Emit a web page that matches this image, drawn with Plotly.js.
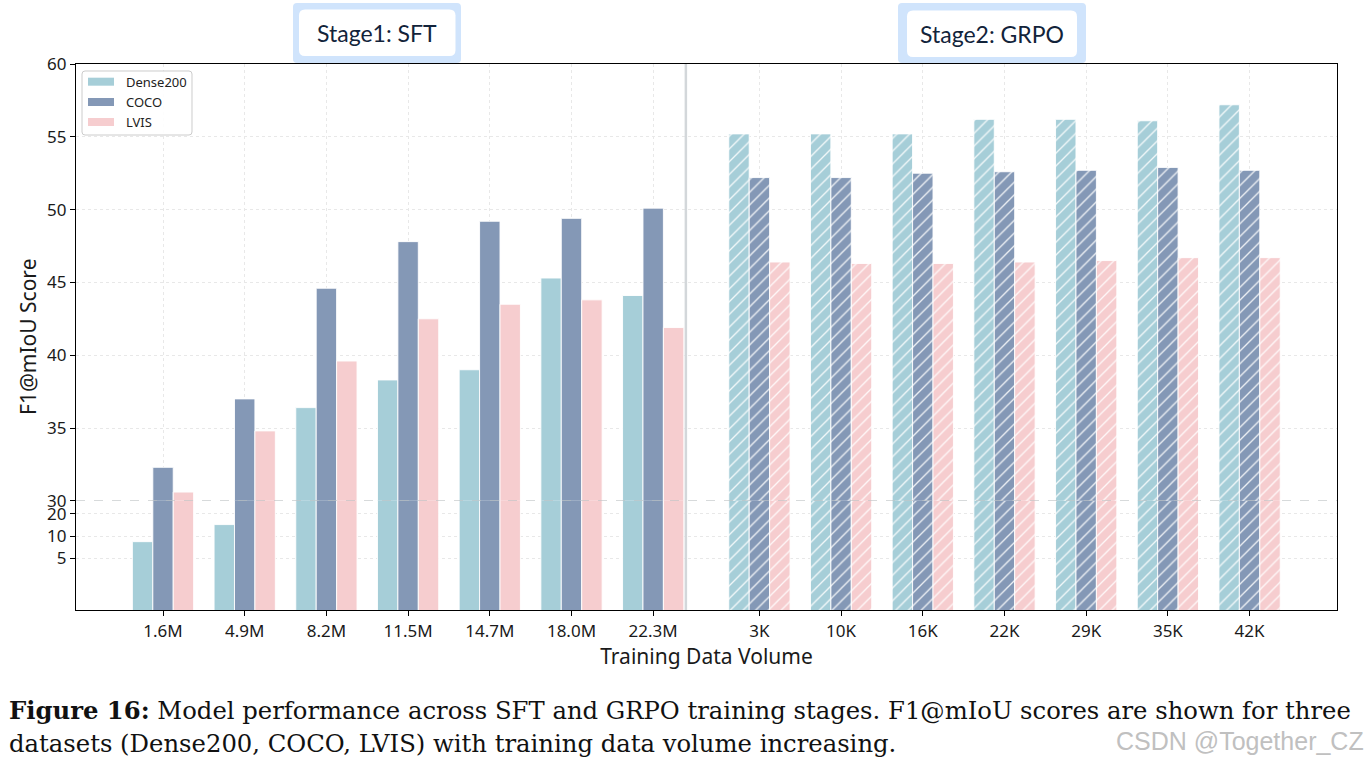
<!DOCTYPE html>
<html>
<head>
<meta charset="utf-8">
<script src="https://cdn.plot.ly/plotly-3.0.1.min.js"></script>
<style>
  html, body { margin: 0; padding: 0; background: #ffffff; }
  #chart { width: 1370px; height: 764px; }
</style>
</head>
<body>
<div id="chart"></div>
<script>
// ---------------- data ----------------
const categories = ['1.6M', '4.9M', '8.2M', '11.5M', '14.7M', '18.0M', '22.3M',
                    '3K', '10K', '16K', '22K', '29K', '35K', '42K'];
const stages = ['SFT', 'SFT', 'SFT', 'SFT', 'SFT', 'SFT', 'SFT',
                'GRPO', 'GRPO', 'GRPO', 'GRPO', 'GRPO', 'GRPO', 'GRPO'];
const dense200 = [8.4, 14.3, 36.4, 38.3, 39.0, 45.3, 44.1,
                  55.2, 55.2, 55.2, 56.2, 56.2, 56.1, 57.2];
const coco     = [32.3, 37.0, 44.6, 47.8, 49.2, 49.4, 50.1,
                  52.2, 52.2, 52.5, 52.6, 52.7, 52.9, 52.7];
const lvis     = [30.6, 34.8, 39.6, 42.5, 43.5, 43.8, 41.9,
                  46.4, 46.3, 46.3, 46.4, 46.5, 46.7, 46.7];
const seriesNames = ['Dense200', 'COCO', 'LVIS'];
const upperTicks = [30, 35, 40, 45, 50, 55, 60];
const lowerTicks = [5, 10, 20];

// ---------------- layout constants ----------------
const STAGE_GAP = 0.3;           // extra space between the two stages
const SEPARATOR_X = 6.4;
const colors = ['#a6ced8', '#8498b6', '#f6cdcf'];
const W = 1370, H = 764, ML = 76, MR = 33, MT = 64, MB = 154;
const PW = W - ML - MR, PH = H - MT - MB;
const px = v => (v - ML) / PW;
const py = v => (H - MB - v) / PH;

const xpos = categories.map((c, i) => stages[i] === 'GRPO' ? i + STAGE_GAP : i);
const patternShapes = stages.map(s => s === 'GRPO' ? '/' : '');
const FONT = 'Noto Sans, Open Sans, sans-serif';

const seriesData = [dense200, coco, lvis];
const traces = [];
['', '2'].forEach(ax => {
  seriesData.forEach((vals, k) => {
    traces.push({
      type: 'bar',
      name: seriesNames[k],
      x: xpos,
      y: vals,
      xaxis: 'x' + ax,
      yaxis: 'y' + ax,
      offsetgroup: String(k),
      showlegend: false,
      hoverinfo: 'skip',
      marker: {
        color: colors[k],
        line: { color: 'rgba(255,255,255,0.9)', width: 1 },
        pattern: { shape: patternShapes, fgcolor: '#ffffff', bgcolor: colors[k], fgopacity: 0.85,
                   size: 9, solidity: 0.15, fillmode: 'replace' }
      }
    });
  });
});

function roundRect(x0, y0, x1, y1, r) {
  const P = (x, y) => px(x).toFixed(5) + ',' + py(y).toFixed(5);
  return 'M' + P(x0 + r, y0) + ' L' + P(x1 - r, y0) + ' Q' + P(x1, y0) + ' ' + P(x1, y0 + r) +
         ' L' + P(x1, y1 - r) + ' Q' + P(x1, y1) + ' ' + P(x1 - r, y1) +
         ' L' + P(x0 + r, y1) + ' Q' + P(x0, y1) + ' ' + P(x0, y1 - r) +
         ' L' + P(x0, y0 + r) + ' Q' + P(x0, y0) + ' ' + P(x0 + r, y0) + ' Z';
}

const stageBoxes = [
  { text: 'Stage1: SFT',  outer: [293, 3, 461, 63], inner: [299, 9.5, 455.5, 56] },
  { text: 'Stage2: GRPO', outer: [898, 3, 1086, 63], inner: [907, 10.5, 1077, 57] }
];

const shapes = [];
const annotations = [];
stageBoxes.forEach(b => {
  shapes.push({ type: 'path', xref: 'paper', yref: 'paper', path: roundRect(...b.outer, 4),
                fillcolor: '#d0e4fc', line: { width: 0 } });
  shapes.push({ type: 'path', xref: 'paper', yref: 'paper', path: roundRect(...b.inner, 6),
                fillcolor: '#ffffff', line: { width: 0 } });
  annotations.push({ xref: 'paper', yref: 'paper',
                     x: px((b.inner[0] + b.inner[2]) / 2), y: py((b.inner[1] + b.inner[3]) / 2),
                     xanchor: 'center', yanchor: 'middle', showarrow: false, text: b.text,
                     font: { family: 'Lato, Inter, sans-serif', size: 23, color: '#12233a' } });
});
// dashed break line at 30
shapes.push({ type: 'line', xref: 'paper', yref: 'y2', x0: 0, x1: 1, y0: 30, y1: 30,
              line: { color: '#b9bdc0', width: 1.2, dash: 'dash' }, layer: 'above' });
// stage separator
shapes.push({ type: 'line', xref: 'x', yref: 'paper', x0: SEPARATOR_X, x1: SEPARATOR_X, y0: 0, y1: 1,
              line: { color: '#d3d7da', width: 2.5 }, layer: 'above' });

// legend (box, swatches, labels)
shapes.push({ type: 'path', xref: 'paper', yref: 'paper', path: roundRect(82, 71, 192, 135, 3),
              fillcolor: 'rgba(255,255,255,0.9)', line: { color: '#cccccc', width: 1 }, layer: 'above' });
const legendRows = [81.7, 102, 122];
seriesNames.forEach((n, k) => {
  const cy = legendRows[k];
  shapes.push({ type: 'rect', xref: 'paper', yref: 'paper', x0: px(88), x1: px(114),
                y0: py(cy + 4), y1: py(cy - 4), fillcolor: colors[k], line: { width: 0 }, layer: 'above' });
  annotations.push({ xref: 'paper', yref: 'paper', x: px(124), y: py(cy), xanchor: 'left', yanchor: 'middle',
                     showarrow: false, text: n, font: { family: FONT, size: 13, color: '#222222' } });
});

annotations.push({ xref: 'paper', yref: 'paper', x: px(28), y: 0.5, textangle: -90,
                   xanchor: 'center', yanchor: 'middle', showarrow: false, text: 'F1@mIoU Score',
                   font: { family: FONT, size: 21, color: '#1a1a1a' } });
annotations.push({ xref: 'paper', yref: 'paper', x: px(7), y: py(710), xanchor: 'left', yanchor: 'middle',
                   showarrow: false,
                   text: '<b>Figure 16:</b> Model performance across SFT and GRPO training stages. F1@mIoU scores are shown for three',
                   font: { family: 'DejaVu Serif, serif', size: 24.3, color: '#111111' } });
annotations.push({ xref: 'paper', yref: 'paper', x: px(7), y: py(743), xanchor: 'left', yanchor: 'middle',
                   showarrow: false,
                   text: 'datasets (Dense200, COCO, LVIS) with training data volume increasing.',
                   font: { family: 'DejaVu Serif, serif', size: 24.3, color: '#111111' } });
annotations.push({ xref: 'paper', yref: 'paper', x: px(1366), y: py(741), xanchor: 'right', yanchor: 'middle',
                   showarrow: false, text: 'CSDN @Together_CZ',
                   font: { family: 'Liberation Sans, Arial, sans-serif', size: 25, color: '#c0c0c0' } });

const gridStyle = { showgrid: true, gridcolor: '#e8e8e8', gridwidth: 1, griddash: 'dot' };
const BREAK = 0.2;

const layout = {
  width: W, height: H,
  margin: { l: ML, r: MR, t: MT, b: MB, pad: 0 },
  paper_bgcolor: '#ffffff', plot_bgcolor: '#ffffff',
  font: { family: FONT, color: '#1a1a1a' },
  barmode: 'group', bargap: 0.25, bargroupgap: 0,
  showlegend: false,
  xaxis: Object.assign({
    domain: [0, 1], anchor: 'y', range: [-1.065, 14.37],
    tickmode: 'array', tickvals: xpos, ticktext: categories,
    ticks: 'outside', ticklen: 5, tickwidth: 1, tickcolor: '#000',
    showline: true, linecolor: '#000', linewidth: 1.2, zeroline: false,
    tickfont: { family: FONT, size: 17, color: '#1a1a1a' },
    title: { text: 'Training Data Volume', font: { family: FONT, size: 21, color: '#1a1a1a' }, standoff: 3 }
  }, gridStyle),
  xaxis2: Object.assign({
    matches: 'x', anchor: 'y2', side: 'top', showticklabels: false, ticks: '',
    showline: true, linecolor: '#000', linewidth: 1.2, zeroline: false,
    tickmode: 'array', tickvals: xpos
  }, gridStyle),
  yaxis: Object.assign({
    domain: [0, BREAK], anchor: 'x', type: 'log', range: [0, Math.log10(30)],
    tickmode: 'array', tickvals: lowerTicks, ticktext: lowerTicks.map(String),
    ticks: 'outside', ticklen: 5, tickcolor: '#000', tickwidth: 1,
    showline: true, mirror: true, linecolor: '#000', linewidth: 1.2, zeroline: false,
    tickfont: { family: FONT, size: 17, color: '#1a1a1a' }
  }, gridStyle),
  yaxis2: Object.assign({
    domain: [BREAK, 1], anchor: 'x2', range: [30, 60],
    tickmode: 'array', tickvals: upperTicks, ticktext: upperTicks.map(String),
    ticks: 'outside', ticklen: 5, tickcolor: '#000', tickwidth: 1,
    showline: true, mirror: true, linecolor: '#000', linewidth: 1.2, zeroline: false,
    tickfont: { family: FONT, size: 17, color: '#1a1a1a' }
  }, gridStyle),
  shapes: shapes,
  annotations: annotations
};

Plotly.newPlot('chart', traces, layout, { staticPlot: true, displayModeBar: false });
</script>
</body>
</html>
